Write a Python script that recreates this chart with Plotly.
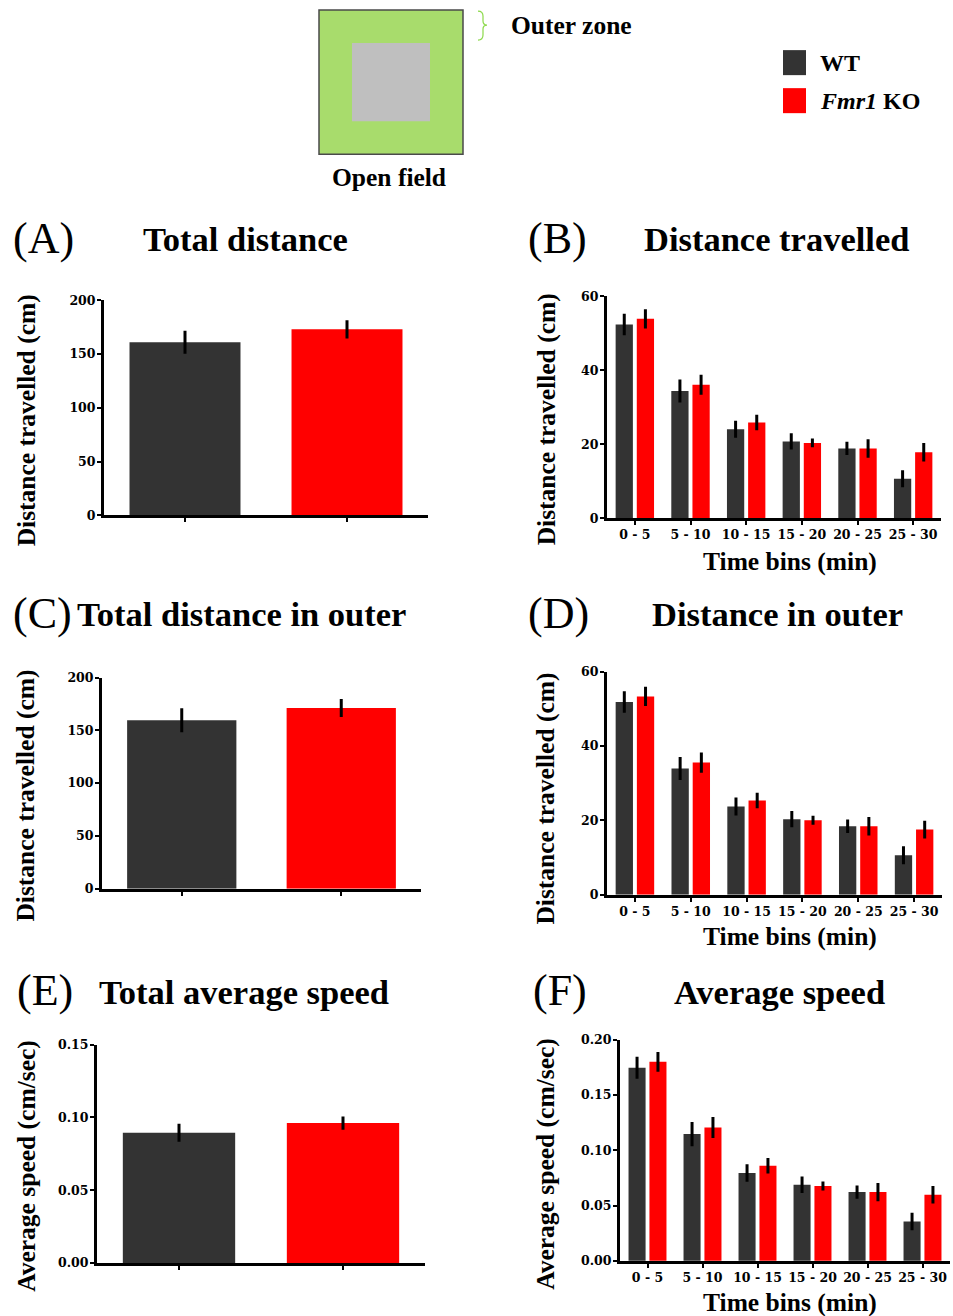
import plotly.graph_objects as go

W, H = 953, 1316

# ---------------- data ----------------
groups = ["WT", "Fmr1 KO"]
bins = ["0 - 5", "5 - 10", "10 - 15", "15 - 20", "20 - 25", "25 - 30"]

# (A) Total distance (cm)
total_dist = [161, 173]
total_dist_err = [10.7, 8.5]

# (B) Distance travelled per bin (cm)
dist_wt = [52.4, 34.4, 24.1, 20.8, 18.9, 10.7]
dist_wt_err = [2.9, 3.1, 2.3, 2.2, 1.8, 2.3]
dist_ko = [53.9, 36.1, 25.9, 20.4, 18.9, 17.9]
dist_ko_err = [2.6, 2.7, 2.1, 1.2, 2.5, 2.5]

# (C) Total distance in outer (cm)
outer_total = [159.5, 171.2]
outer_total_err = [11.4, 8.5]

# (D) Distance in outer per bin (cm)
outer_wt = [51.8, 33.9, 23.7, 20.3, 18.4, 10.6]
outer_wt_err = [2.9, 3.1, 2.4, 2.2, 1.8, 2.4]
outer_ko = [53.3, 35.5, 25.3, 20.0, 18.4, 17.5]
outer_ko_err = [2.6, 2.7, 2.1, 1.2, 2.5, 2.4]

# (E) Total average speed (cm/sec)
speed_total = [0.0895, 0.0961]
speed_total_err = [0.0062, 0.0046]

# (F) Average speed per bin (cm/sec)
speed_wt = [0.1747, 0.1147, 0.0795, 0.0689, 0.0622, 0.0356]
speed_wt_err = [0.010, 0.011, 0.008, 0.0075, 0.006, 0.008]
speed_ko = [0.180, 0.1206, 0.0861, 0.0677, 0.0622, 0.0598]
speed_ko_err = [0.009, 0.0095, 0.007, 0.004, 0.0083, 0.008]

WT_COLOR = "#333333"
KO_COLOR = "#FF0000"

# ---------------- helpers ----------------
# page is photographed with an 8px body margin that is squeezed vertically;
# map desired page pixels to figure pixels accordingly
def px(x):
    return x / W

def py(y):
    yf = y * (H + 16) / H - 8
    return 1 - yf / H

TITLE_FONT = "Liberation Serif"
TICK_FONT = "DejaVu Serif"

fig = go.Figure()

panels = {
    "A": dict(box=(104, 428, 300, 515), kind="total", yr=[0, 200], dt=50, fmt=""),
    "B": dict(box=(607, 941, 296, 518), kind="bins", yr=[0, 60], dt=20, fmt=""),
    "C": dict(box=(102, 421, 677, 888), kind="total", yr=[0, 200], dt=50, fmt=""),
    "D": dict(box=(607, 942, 671, 894), kind="bins", yr=[0, 60], dt=20, fmt=""),
    "E": dict(box=(97, 425, 1044, 1262), kind="total", yr=[0, 0.15], dt=0.05, fmt=".2f"),
    "F": dict(box=(620, 950, 1039, 1260), kind="bins", yr=[0, 0.20], dt=0.05, fmt=".2f"),
}

totals = {
    "A": (total_dist, total_dist_err),
    "C": (outer_total, outer_total_err),
    "E": (speed_total, speed_total_err),
}
binned = {
    "B": (dist_wt, dist_wt_err, dist_ko, dist_ko_err),
    "D": (outer_wt, outer_wt_err, outer_ko, outer_ko_err),
    "F": (speed_wt, speed_wt_err, speed_ko, speed_ko_err),
}

layout_axes = {}
for i, (key, p) in enumerate(panels.items(), start=1):
    x0, x1, yt, yb = p["box"]
    xa = "x" if i == 1 else f"x{i}"
    ya = "y" if i == 1 else f"y{i}"
    err_style = dict(type="data", color="black", thickness=3, width=0, visible=True)
    if p["kind"] == "total":
        vals, errs = totals[key]
        fig.add_trace(go.Bar(
            x=groups, y=vals, xaxis=xa, yaxis=ya,
            marker=dict(color=[WT_COLOR, KO_COLOR], line=dict(width=0)),
            width=0.685, offset=-0.3425,
            error_y=dict(array=errs, **err_style),
            showlegend=False,
        ))
        cats = groups
        show_xlabels = False
    else:
        wt, wte, ko, koe = binned[key]
        fig.add_trace(go.Bar(
            x=bins, y=wt, xaxis=xa, yaxis=ya, name="WT",
            marker=dict(color=WT_COLOR, line=dict(width=0)),
            width=0.31, offset=-0.345,
            error_y=dict(array=wte, **err_style),
            showlegend=False,
        ))
        fig.add_trace(go.Bar(
            x=bins, y=ko, xaxis=xa, yaxis=ya, name="Fmr1 KO",
            marker=dict(color=KO_COLOR, line=dict(width=0)),
            width=0.31, offset=0.035,
            error_y=dict(array=koe, **err_style),
            showlegend=False,
        ))
        cats = bins
        show_xlabels = True

    axname_x = "xaxis" if i == 1 else f"xaxis{i}"
    axname_y = "yaxis" if i == 1 else f"yaxis{i}"
    layout_axes[axname_x] = dict(
        domain=[px(x0), min(px(x1), 1)], anchor=ya, type="category",
        categoryorder="array", categoryarray=cats,
        range=[-0.5, len(cats) - 0.5],
        showline=True, linewidth=3, linecolor="black",
        ticks="outside", ticklen=4, tickwidth=2, tickcolor="black",
        showticklabels=show_xlabels, ticklabelstandoff=-1,
        tickfont=dict(family=TICK_FONT, size=12.5, color="black", weight="bold"),
        showgrid=False, zeroline=False, fixedrange=True,
    )
    layout_axes[axname_y] = dict(
        domain=[py(yb), py(yt)], anchor=xa,
        range=p["yr"], dtick=p["dt"], tick0=0, tickformat=p["fmt"],
        showline=True, linewidth=3, linecolor="black",
        ticks="outside", ticklen=4, tickwidth=2, tickcolor="black",
        ticklabelstandoff=-1,
        tickfont=dict(family=TICK_FONT, size=12.5, color="black", weight="bold"),
        showgrid=False, zeroline=False, fixedrange=True,
    )

fig.update_layout(**layout_axes)

# ---------------- text annotations ----------------
ann = []

def text(x, y, s, size, family=TITLE_FONT, bold=True, xanchor="center", angle=0):
    ann.append(dict(
        x=px(x), y=py(y), xref="paper", yref="paper", text=s, showarrow=False,
        xanchor=xanchor, yanchor="middle", textangle=angle,
        font=dict(family=family, size=size, color="black", weight="bold" if bold else "normal"),
    ))

# panel letters
for lab, x, y in [("(A)", 43, 238), ("(B)", 557, 238), ("(C)", 42, 613),
                  ("(D)", 558, 613), ("(E)", 45, 990), ("(F)", 560, 990)]:
    text(x, y, lab, 44, bold=False)

# panel titles
for s, x, y in [("Total distance", 245, 239), ("Distance travelled", 776, 239),
                ("Total distance in outer", 241, 614), ("Distance in outer", 777, 614),
                ("Total average speed", 244, 991), ("Average speed", 779, 991)]:
    text(x, y, s, 34.5)

# y-axis titles
for s, x, y in [("Distance travelled (cm)", 26, 420), ("Distance travelled (cm)", 546, 419),
                ("Distance travelled (cm)", 26, 795), ("Distance travelled (cm)", 546, 798),
                ("Average speed (cm/sec)", 27, 1165), ("Average speed (cm/sec)", 546, 1163)]:
    text(x, y, s, 25.5, angle=-90)

# x-axis titles
for x, y in [(790, 561), (790, 936), (790, 1302)]:
    text(x, y, "Time bins (min)", 25.5)

# open field diagram text and legend
text(509, 25, "Outer zone", 25.5, xanchor="left")
text(389, 177, "Open field", 25.5)
text(818, 63, "WT", 24, xanchor="left")
text(818, 101, "<i>Fmr1</i> KO", 24, xanchor="left")

# ---------------- shapes (diagram + legend swatches) ----------------
shapes = []

def rect(x0, y0, x1, y1, fill, line=None, lw=0):
    shapes.append(dict(
        type="rect", xref="paper", yref="paper",
        x0=px(x0), x1=px(x1), y0=py(y1), y1=py(y0),
        fillcolor=fill, line=dict(color=line or fill, width=lw), layer="above",
    ))

rect(319, 10, 463, 154, "#A8DC6C", "#4a4a4a", 1.5)
rect(352, 43, 430, 121, "#BFBFBF")
rect(783, 50, 806, 75, WT_COLOR)
rect(783, 88, 806, 113, KO_COLOR)

def pt(x, y):
    return f"{px(x):.5f},{py(y):.5f}"

path = (f"M {pt(478, 11)} Q {pt(483, 11)} {pt(483, 16)} L {pt(483, 21)} "
        f"Q {pt(483, 25)} {pt(487, 25)} Q {pt(483, 25)} {pt(483, 29)} "
        f"L {pt(483, 35)} Q {pt(483, 40)} {pt(478, 40)}")
shapes.append(dict(type="path", xref="paper", yref="paper", path=path,
                   line=dict(color="#8CD94A", width=1.2)))

fig.update_layout(
    width=W, height=H, margin=dict(l=0, r=0, t=0, b=0),
    paper_bgcolor="white", plot_bgcolor="white",
    barmode="overlay", annotations=ann, shapes=shapes,
    showlegend=False,
)

fig.write_html("out.html", config={"displayModeBar": False})
